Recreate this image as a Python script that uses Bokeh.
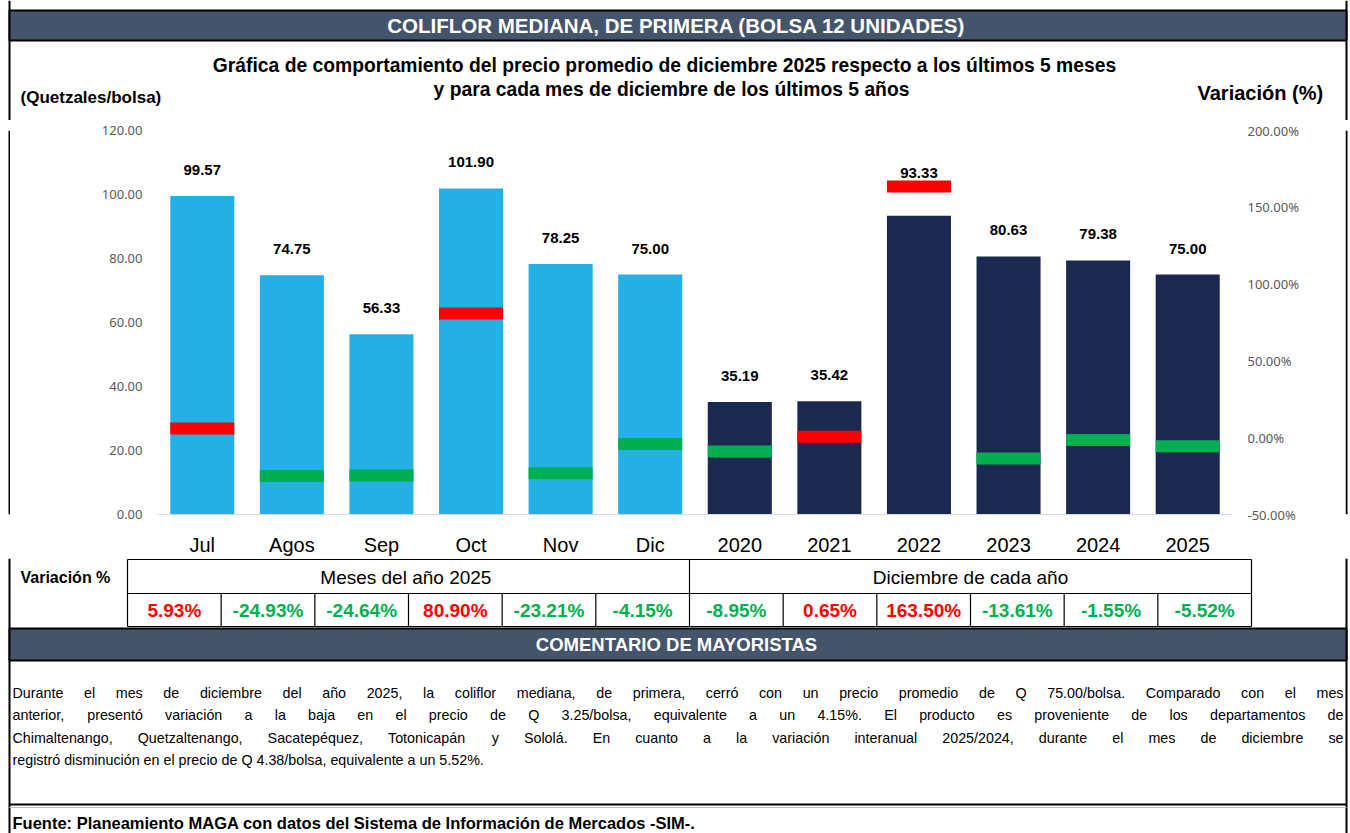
from bokeh.plotting import figure
from bokeh.models import (Range1d, FactorRange, LinearAxis, FixedTicker,
                          NumeralTickFormatter, PrintfTickFormatter,
                          ColumnDataSource, LabelSet)
from bokeh.layouts import column, row
from bokeh.embed import file_html
from bokeh.resources import INLINE
from bokeh.core.properties import value

# ---------------- data ----------------
months = ["Jul", "Agos", "Sep", "Oct", "Nov", "Dic"]
years = ["2020", "2021", "2022", "2023", "2024", "2025"]
price_months = [99.57, 74.75, 56.33, 101.90, 78.25, 75.00]
price_years = [35.19, 35.42, 93.33, 80.63, 79.38, 75.00]
var_months = [5.93, -24.93, -24.64, 80.90, -23.21, -4.15]
var_years = [-8.95, 0.65, 163.50, -13.61, -1.55, -5.52]
left_ticks = [0, 20, 40, 60, 80, 100, 120]
right_ticks = [-50, 0, 50, 100, 150, 200]

title = "COLIFLOR MEDIANA, DE PRIMERA (BOLSA 12 UNIDADES)"
subtitle1 = "Gráfica de comportamiento del precio promedio de diciembre 2025 respecto a los últimos 5 meses"
subtitle2 = "y para cada mes de diciembre de los últimos 5 años"
group1 = "Meses del año  2025"
group2 = "Diciembre de cada año"
comment_lines = [
    "Durante el mes de diciembre del año 2025, la coliflor mediana, de primera, cerró con un precio promedio de Q 75.00/bolsa. Comparado con el mes",
    "anterior,  presentó variación a la baja en el precio de Q 3.25/bolsa, equivalente a un 4.15%. El producto es proveniente de los departamentos de",
    "Chimaltenango, Quetzaltenango, Sacatepéquez, Totonicapán y Sololá. En cuanto a la variación interanual 2025/2024, durante el mes de diciembre se",
    "registró disminución en el precio de Q 4.38/bolsa, equivalente a un 5.52%.",
]
source_txt = "Fuente: Planeamiento MAGA con datos del  Sistema de Información de Mercados -SIM-."

# ---------------- style ----------------
LIGHT = "#25B0E5"
DARK = "#1B2951"
RED = "#FF0000"
GREEN = "#00B050"
SLATE = "#44546A"
ARIAL = value("Liberation Sans")

W = 1350
BL, BR = 9, 1346  # outer frame lines


def blank(width, height, x0, x1, y0, y1, borders=True):
    f = figure(width=width, height=height, x_range=Range1d(x0, x1),
               y_range=Range1d(y1, y0), output_backend="svg",
               toolbar_location=None, min_border=0,
               x_axis_location=None, y_axis_location=None)
    f.grid.visible = False
    f.outline_line_color = None
    f.background_fill_color = "white"
    f.border_fill_color = "white"
    if borders:
        f.segment(x0=[BL, BR], x1=[BL, BR], y0=[y0, y0], y1=[y1, y1],
                  line_color="black", line_width=2)
    return f


# ---------------- top block ----------------
top = blank(W, 120, 0, W, 0, 120)
top.quad(left=[BL], right=[BR], top=[10], bottom=[40], fill_color=SLATE,
         line_color="black", line_width=2)
top.text(x=[676], y=[25], text=[title], text_font=ARIAL, text_font_style="bold",
         text_font_size="20.5px", text_color="white", text_align="center",
         text_baseline="middle")
top.text(x=[664, 671], y=[65, 89], text=[subtitle1, subtitle2], text_font=ARIAL,
         text_font_style="bold", text_font_size="19.3px", text_color="black",
         text_align="center", text_baseline="middle")
top.text(x=[20], y=[97], text=["(Quetzales/bolsa)"], text_font=ARIAL,
         text_font_style="bold", text_font_size="17px", text_color="black",
         text_align="left", text_baseline="middle")
top.text(x=[1197], y=[92], text=["Variación (%)"], text_font=ARIAL,
         text_font_style="bold", text_font_size="20px", text_color="black",
         text_align="left", text_baseline="middle")

# ---------------- chart ----------------
cats = months + years
prices = price_months + price_years
variation = var_months + var_years
PMAX = left_ticks[-1]
VMIN, VMAX = right_ticks[0], right_ticks[-1]
# label sits above the bar, or above the variation marker when that is higher
var_on_left = [(v - VMIN) * PMAX / (VMAX - VMIN) for v in variation]
label_y = [max(p, vl - 4) for p, vl in zip(prices, var_on_left)]
src = ColumnDataSource(dict(
    cat=cats,
    price=prices,
    var=variation,
    ly=label_y,
    color=[LIGHT] * len(months) + [DARK] * len(years),
    mcolor=[RED if v > 0 else GREEN for v in variation],
    label=[f"{v:.2f}" for v in prices],
))

CW = 1335
ch = figure(width=CW, height=438, x_range=FactorRange(*cats),
            y_range=Range1d(0, PMAX), output_backend="svg",
            toolbar_location=None, min_border_left=147, min_border_right=113,
            min_border_top=10, min_border_bottom=37)
ch.extra_y_ranges = {"var": Range1d(VMIN, VMAX)}
ch.grid.visible = False
ch.outline_line_color = None
ch.background_fill_color = "white"
ch.border_fill_color = "white"

ya = ch.yaxis[0]
ya.ticker = FixedTicker(ticks=left_ticks)
ya.formatter = NumeralTickFormatter(format="0.00")
ya.axis_line_color = None
ya.major_tick_line_color = None
ya.minor_tick_line_color = None
ya.major_label_text_color = "#595959"
ya.major_label_text_font = "Noto Sans"
ya.major_label_text_font_size = "13px"
ya.major_label_standoff = 9

ra = LinearAxis(y_range_name="var", ticker=FixedTicker(ticks=right_ticks),
                formatter=PrintfTickFormatter(format="%.2f%%"))
ra.axis_line_color = None
ra.major_tick_line_color = None
ra.minor_tick_line_color = None
ra.major_label_text_color = "#595959"
ra.major_label_text_font = "Noto Sans"
ra.major_label_text_font_size = "13px"
ra.major_label_standoff = 9
ch.add_layout(ra, "right")

xa = ch.xaxis[0]
xa.axis_line_color = "#D9D9D9"
xa.axis_line_width = 1
xa.major_tick_line_color = None
xa.minor_tick_line_color = None
xa.major_label_text_color = "black"
xa.major_label_text_font = "Liberation Sans"
xa.major_label_text_font_size = "20px"
xa.major_label_standoff = 13

ch.vbar(x="cat", top="price", width=0.715, fill_color="color",
        line_color=None, source=src)
ch.rect(x="cat", y="var", width=0.715, height=12, height_units="screen",
        fill_color="mcolor", line_color=None, y_range_name="var", source=src)
ch.add_layout(LabelSet(x="cat", y="ly", text="label", source=src,
                       text_align="center", text_baseline="bottom", y_offset=21,
                       text_font=ARIAL, text_font_style="bold",
                       text_font_size="15px", text_color="black"))

edge_l = blank(10, 438, 0, 10, 0, 438, borders=False)
edge_l.quad(left=[BL - 1], right=[BL + 1], top=[0], bottom=[438],
            fill_color="black", line_color=None)
edge_r = blank(W - 10 - CW, 438, 10 + CW, W, 0, 438, borders=False)
edge_r.quad(left=[BR - 1], right=[BR + 1], top=[0], bottom=[438],
            fill_color="black", line_color=None)
mid = row(edge_l, ch, edge_r, spacing=0)

# ---------------- bottom block ----------------
bot = blank(W, 275, 0, W, 558, 833)
tl, tr = 127, 1251
ncol = len(cats)
step = (tr - tl) / ncol
edges = [tl + i * step for i in range(ncol + 1)]
r0, r1, r2 = 559, 593, 626
bot.segment(x0=[tl, tl, tl], x1=[tr, tr, tr], y0=[r0, r1, r2], y1=[r0, r1, r2],
            line_color="black", line_width=1.2)
full = [edges[0], edges[len(months)], edges[-1]]
inner = [e for i, e in enumerate(edges) if i not in (0, len(months), ncol)]
bot.segment(x0=full, x1=full, y0=[r0] * 3, y1=[r2] * 3, line_color="black",
            line_width=1.2)
bot.segment(x0=inner, x1=inner, y0=[r1] * len(inner), y1=[r2] * len(inner),
            line_color="black", line_width=1.2)
bot.text(x=[20], y=[577], text=["Variación %"], text_font=ARIAL,
         text_font_style="bold", text_font_size="16px", text_color="black",
         text_align="left", text_baseline="middle")
bot.text(x=[(edges[0] + edges[len(months)]) / 2, (edges[len(months)] + edges[-1]) / 2],
         y=[577, 577], text=[group1, group2], text_font=ARIAL,
         text_font_size="19px", text_color="black", text_align="center",
         text_baseline="middle")
bot.text(x=[(edges[i] + edges[i + 1]) / 2 for i in range(ncol)],
         y=[610] * ncol, text=[f"{v:.2f}%" for v in variation],
         text_color=[RED if v > 0 else GREEN for v in variation],
         text_font=ARIAL, text_font_style="bold", text_font_size="19px",
         text_align="center", text_baseline="middle")

# comment header
bot.quad(left=[BL], right=[BR], top=[628], bottom=[660], fill_color=SLATE,
         line_color="black", line_width=2)
bot.text(x=[676], y=[644], text=["COMENTARIO DE MAYORISTAS"], text_font=ARIAL,
         text_font_style="bold", text_font_size="18.5px", text_color="white",
         text_align="center", text_baseline="middle")

# justified paragraph (word positions from Arial / Liberation Sans metrics)
AW = {}
for c_, w in zip("abcdefghijklmnopqrstuvwxyz",
                 [556, 556, 500, 556, 556, 278, 556, 556, 222, 222, 500, 222, 833,
                  556, 556, 556, 556, 333, 500, 278, 556, 500, 722, 500, 500, 500]):
    AW[c_] = w
for c_, w in zip("ABCDEFGHIJKLMNOPQRSTUVWXYZ",
                 [667, 667, 722, 722, 667, 611, 778, 722, 278, 500, 667, 556, 833,
                  722, 778, 667, 778, 722, 667, 611, 722, 667, 944, 667, 667, 611]):
    AW[c_] = w
for d in "0123456789":
    AW[d] = 556
AW.update({" ": 278, ".": 278, ",": 278, "/": 278, "%": 889, "-": 333,
           "á": 556, "é": 556, "í": 278, "ó": 556, "ú": 556, "ñ": 556})


def em(s):
    return sum(AW.get(c, 556) for c in s) / 1000.0


PX0, PX1 = 12, 1343
FS = round(470 / em(comment_lines[-1]), 1)
line_y = [692, 714, 737, 759]
wx, wy, wt = [], [], []
for li, line in enumerate(comment_lines):
    words = line.split()
    if li < len(comment_lines) - 1 and len(words) > 1:
        nat = sum(em(w) for w in words) * FS
        gap = (PX1 - PX0 - nat) / (len(words) - 1)
    else:
        gap = em(" ") * FS
    x = PX0
    for w in words:
        wx.append(x)
        wy.append(line_y[li])
        wt.append(w)
        x += em(w) * FS + gap
bot.text(x=wx, y=wy, text=wt, text_font=ARIAL, text_font_size=f"{FS}px",
         text_color="black", text_align="left", text_baseline="middle")

bot.segment(x0=[BL], x1=[BR], y0=[804], y1=[804], line_color="black", line_width=2)
bot.segment(x0=[BL], x1=[BR], y0=[807], y1=[807], line_color="#BFBFBF", line_width=1)
bot.text(x=[12], y=[822], text=[source_txt], text_font=ARIAL,
         text_font_style="bold", text_font_size="16.5px", text_color="black",
         text_align="left", text_baseline="middle")

layout = column(top, mid, bot, spacing=0)
open("out.html", "w").write(file_html(layout, INLINE))
